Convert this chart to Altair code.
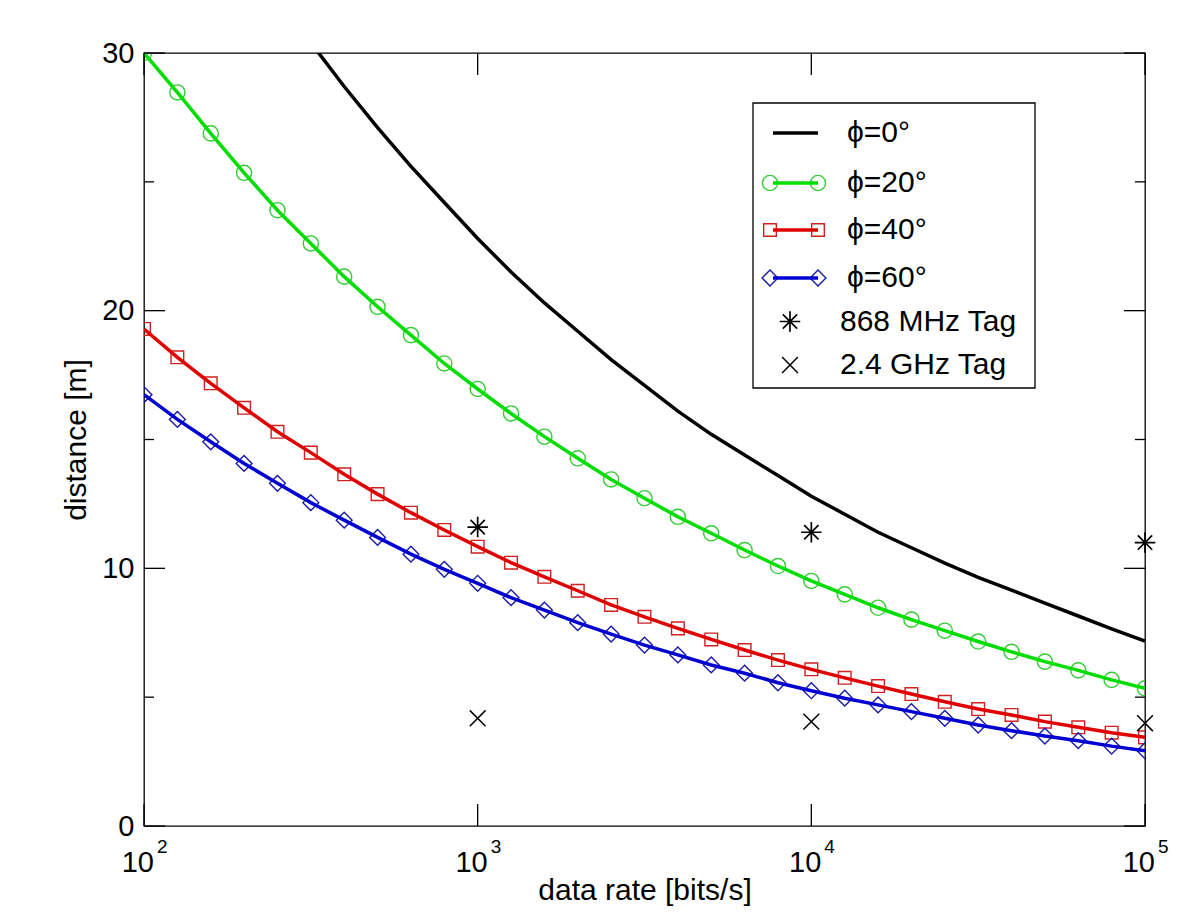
import altair as alt
import pandas as pd

# ---------------- data ----------------
rate = [100, 125.9, 158.5, 199.5, 251.2, 316.2, 398.1, 501.2, 631.0, 794.3,
        1000, 1259, 1585, 1995, 2512, 3162, 3981, 5012, 6310, 7943,
        10000, 12589, 15849, 19953, 25119, 31623, 39811, 50119, 63096, 79433, 100000]

phi20 = [30.0, 28.47, 26.88, 25.35, 23.90, 22.61, 21.32, 20.15, 19.05, 17.95,
         16.96, 16.01, 15.11, 14.27, 13.45, 12.72, 12.00, 11.36, 10.71, 10.09,
         9.51, 8.99, 8.47, 8.01, 7.58, 7.16, 6.76, 6.38, 6.04, 5.67, 5.34]

phi40 = [19.29, 18.19, 17.18, 16.23, 15.30, 14.49, 13.65, 12.88, 12.16, 11.49,
         10.84, 10.22, 9.67, 9.13, 8.58, 8.12, 7.67, 7.24, 6.83, 6.44,
         6.08, 5.75, 5.43, 5.12, 4.82, 4.54, 4.31, 4.05, 3.83, 3.62, 3.44]

phi60 = [16.74, 15.78, 14.91, 14.07, 13.30, 12.55, 11.87, 11.20, 10.55, 9.96,
         9.42, 8.86, 8.38, 7.89, 7.45, 7.02, 6.64, 6.25, 5.93, 5.56,
         5.25, 4.96, 4.70, 4.44, 4.18, 3.92, 3.70, 3.49, 3.31, 3.10, 2.92]

phi0_rate = [316.2, 398.1, 501.2, 631.0, 794.3,
             1000, 1259, 1585, 1995, 2512, 3162, 3981, 5012, 6310, 7943,
             10000, 12589, 15849, 19953, 25119, 31623, 39811, 50119, 63096, 79433, 100000]
phi0 = [30.4, 28.7, 27.1, 25.6, 24.2,
        22.8, 21.5, 20.3, 19.2, 18.1, 17.1, 16.1, 15.2, 14.4, 13.6,
        12.8, 12.1, 11.4, 10.8, 10.2, 9.65, 9.15, 8.65, 8.15, 7.65, 7.18]

tag_rate = [1000, 10000, 100000]
tag868 = [11.6, 11.4, 11.0]
tag24 = [4.18, 4.05, 3.99]

x_ticks = [100, 1000, 10000, 100000]
x_base = ["10", "10", "10", "10"]
x_exp = ["2", "3", "4", "5"]
y_major = [0, 10, 20, 30]
y_minor = [5, 15, 25]

legend_labels = ["ϕ=0°", "ϕ=20°", "ϕ=40°", "ϕ=60°", "868 MHz Tag", "2.4 GHz Tag"]

# ---------------- layout ----------------
W, H = 1001, 773
FONT = "Liberation Sans"
FS = 30

X = alt.X("rate:Q",
          scale=alt.Scale(type="log", domain=[100, 100000], nice=False),
          axis=alt.Axis(title="data rate [bits/s]", labels=False, ticks=False,
                        domain=False, grid=False, titleFontSize=FS, titleFont=FONT,
                        titleFontWeight="normal", titleColor="black",
                        titleY=73, titleBaseline="alphabetic"))
Y = alt.Y("d:Q",
          scale=alt.Scale(domain=[0, 30], nice=False),
          axis=alt.Axis(title="distance [m]", values=y_major, format="d",
                        ticks=False, domain=False, grid=False,
                        labelFontSize=29, labelFont=FONT, labelColor="black",
                        labelPadding=10, titleFontSize=FS, titleFont=FONT,
                        titleFontWeight="normal", titleColor="black",
                        titleX=-59, titleBaseline="alphabetic"))

def series_df(xs, ys):
    return pd.DataFrame({"rate": xs, "d": ys})

layers = []

# curves
black = alt.Chart(series_df(phi0_rate, phi0)).mark_line(
    color="black", strokeWidth=3.5, clip=True).encode(x=X, y=Y)
layers.append(black)

specs = [
    (phi20, "#00dd00", "#33cc33", "circle", 230),
    (phi40, "#e00000", "#d02020", "square", 160),
    (phi60, "#0000d0", "#1a1aa8", "diamond", 250),
]
for vals, lc, mc, shape, size in specs:
    df = series_df(rate, vals)
    layers.append(alt.Chart(df).mark_point(shape=shape, size=size, filled=False,
                                           color=mc, strokeWidth=1.4, opacity=1,
                                           clip=True).encode(x=X, y=Y))
    layers.append(alt.Chart(df).mark_line(color=lc, strokeWidth=3.5, clip=True).encode(x=X, y=Y))

STAR = "M-1,0L1,0M0,-1L0,1M-0.7,-0.7L0.7,0.7M-0.7,0.7L0.7,-0.7"
CROSS = "M-1,-1L1,1M-1,1L1,-1"
layers.append(alt.Chart(series_df(tag_rate, tag868)).mark_point(
    shape=STAR, size=420, filled=False, color="black", strokeWidth=1.7, opacity=1).encode(x=X, y=Y))
layers.append(alt.Chart(series_df(tag_rate, tag24)).mark_point(
    shape=CROSS, size=250, filled=False, color="black", strokeWidth=1.5, opacity=1).encode(x=X, y=Y))

# inward ticks
ymaj = pd.DataFrame({"d": y_major})
ymin = pd.DataFrame({"d": y_minor})
xt = pd.DataFrame({"rate": x_ticks, "base": x_base, "exp": x_exp})
for df, ln in [(ymaj, 21), (ymin, 10)]:
    layers.append(alt.Chart(df).mark_rule(color="black", strokeWidth=1.3).encode(
        y=Y, x=alt.value(0), x2=alt.value(ln)))
    layers.append(alt.Chart(df).mark_rule(color="black", strokeWidth=1.3).encode(
        y=Y, x=alt.value(W - ln), x2=alt.value(W)))
layers.append(alt.Chart(xt).mark_rule(color="black", strokeWidth=1.3).encode(
    x=X, y=alt.value(H - 22), y2=alt.value(H)))
layers.append(alt.Chart(xt).mark_rule(color="black", strokeWidth=1.3).encode(
    x=X, y=alt.value(0), y2=alt.value(22)))

# x tick labels 10^n
layers.append(alt.Chart(xt).mark_text(align="right", baseline="alphabetic", dx=10,
                                      fontSize=29, font=FONT, color="black").encode(
    x=X, y=alt.value(819), text="base:N"))
layers.append(alt.Chart(xt).mark_text(align="left", baseline="alphabetic", dx=13,
                                      fontSize=19, font=FONT, color="black").encode(
    x=X, y=alt.value(800), text="exp:N"))

# legend (manual, MATLAB style)
one = pd.DataFrame({"k": [0]})
LX0, LX1, LY0, LY1 = 609, 891, 50, 335
layers.append(alt.Chart(one).mark_rect(fill="white", stroke="black", strokeWidth=1.3).encode(
    x=alt.value(LX0), x2=alt.value(LX1), y=alt.value(LY0), y2=alt.value(LY1)))
rows_y = [80, 130, 177, 225, 268.5, 312]
line_cols = ["black", "#00dd00", "#e00000", "#0000d0"]
mark_info = [None, ("circle", "#33cc33", 230), ("square", "#d02020", 160), ("diamond", "#1a1aa8", 250)]
for i in range(4):
    yv = rows_y[i]
    if mark_info[i] is not None:
        shp, mc, sz = mark_info[i]
        for mx in (626, 674):
            layers.append(alt.Chart(one).mark_point(shape=shp, size=sz, filled=False, color=mc,
                                                    strokeWidth=1.4, opacity=1).encode(
                x=alt.value(mx), y=alt.value(yv)))
    layers.append(alt.Chart(one).mark_rule(color=line_cols[i], strokeWidth=3.5).encode(
        x=alt.value(629), x2=alt.value(674), y=alt.value(yv)))
    layers.append(alt.Chart(one).mark_text(align="left", baseline="middle", fontSize=FS,
                                           font=FONT, color="black", text=legend_labels[i]).encode(
        x=alt.value(703), y=alt.value(yv)))
layers.append(alt.Chart(one).mark_point(shape=STAR, size=420, filled=False, color="black",
                                        strokeWidth=1.7, opacity=1).encode(
    x=alt.value(646), y=alt.value(rows_y[4])))
layers.append(alt.Chart(one).mark_point(shape=CROSS, size=250, filled=False, color="black",
                                        strokeWidth=1.5, opacity=1).encode(
    x=alt.value(646), y=alt.value(rows_y[5])))
for i in (4, 5):
    layers.append(alt.Chart(one).mark_text(align="left", baseline="middle", fontSize=FS,
                                           font=FONT, color="black", text=legend_labels[i]).encode(
        x=alt.value(696), y=alt.value(rows_y[i])))

chart = alt.layer(*layers).properties(
    width=W, height=H,
    autosize=alt.AutoSizeParams(type="none"),
    padding={"left": 136, "top": 45, "right": 47, "bottom": 80},
    background="white",
).configure_view(stroke="black", strokeWidth=1.3)

chart.save("out.html", embed_options={"renderer": "svg", "actions": False})
